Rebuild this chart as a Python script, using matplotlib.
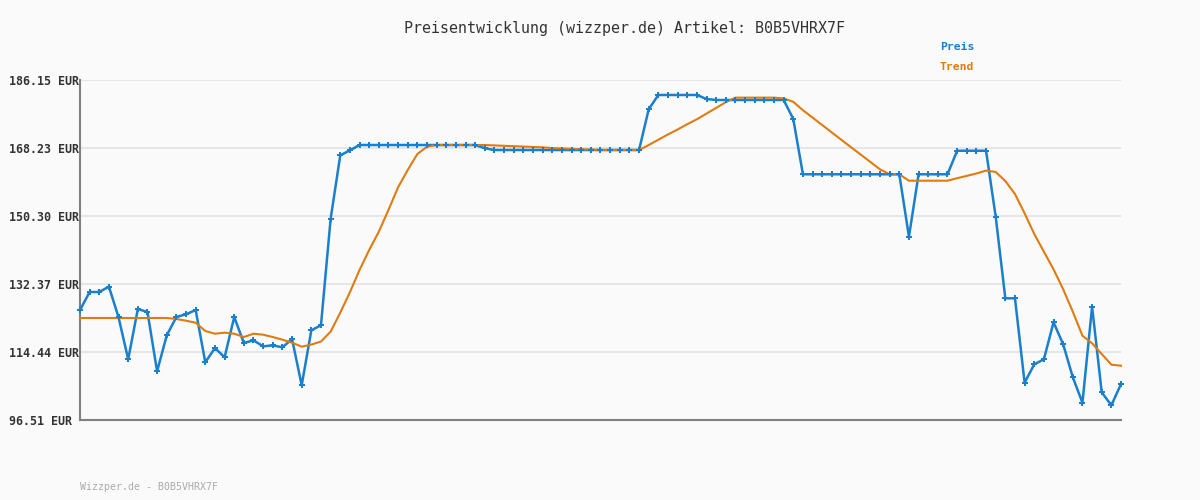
import numpy as np
import matplotlib.pyplot as plt

# price history (109 samples)
preis = [125.51, 130.26, 130.26, 131.66, 123.58, 112.51, 125.78, 124.98, 109.35, 118.84,
         123.66, 124.38, 125.51, 111.72, 115.49, 113.04, 123.66, 116.81, 117.51, 115.93,
         116.19, 115.67, 117.86, 105.66, 120.16, 121.48, 149.50, 166.29, 167.60, 169.01,
         169.01, 169.01, 169.01, 169.01, 169.01, 169.01, 169.01, 169.01, 169.01, 169.01,
         169.01, 169.01, 168.16, 167.69, 167.69, 167.69, 167.69, 167.69, 167.69, 167.69,
         167.69, 167.69, 167.69, 167.69, 167.69, 167.69, 167.69, 167.69, 167.69, 178.42,
         182.20, 182.20, 182.20, 182.20, 182.20, 181.14, 180.88, 180.88, 180.88, 180.88,
         180.88, 180.88, 180.88, 180.88, 175.87, 161.29, 161.29, 161.29, 161.29, 161.29,
         161.29, 161.29, 161.29, 161.29, 161.29, 161.29, 144.84, 161.29, 161.29, 161.29,
         161.29, 167.50, 167.50, 167.50, 167.50, 150.11, 128.59, 128.59, 106.35, 111.19,
         112.51, 122.27, 116.47, 107.77, 101.07, 126.38, 103.81, 100.38, 106.00]

trend = [123.40, 123.40, 123.40, 123.40, 123.40, 123.40, 123.40, 123.40, 123.40, 123.40,
         123.14, 122.69, 122.16, 119.97, 119.26, 119.53, 119.26, 118.39, 119.26, 119.00,
         118.39, 117.69, 116.90, 115.84, 116.40, 117.20, 119.79, 124.80, 130.17, 136.06,
         141.33, 146.15, 151.88, 157.86, 162.42, 166.64, 168.56, 169.01, 169.01, 169.01,
         169.01, 169.01, 169.01, 168.90, 168.80, 168.70, 168.60, 168.50, 168.40, 168.20,
         168.10, 168.00, 167.90, 167.80, 167.70, 167.70, 167.70, 167.70, 167.70, 169.00,
         170.40, 171.80, 173.10, 174.50, 175.80, 177.30, 178.80, 180.30, 181.50, 181.50,
         181.50, 181.50, 181.50, 181.30, 180.40, 178.18, 176.24, 174.29, 172.31, 170.36,
         168.41, 166.48, 164.53, 162.60, 161.29, 161.29, 159.60, 159.60, 159.60, 159.60,
         159.60, 160.26, 160.87, 161.50, 162.26, 161.90, 159.52, 156.09, 151.00, 145.55,
         140.88, 136.24, 130.97, 125.06, 118.74, 116.73, 113.91, 111.09, 110.83]

yticks = [96.51, 114.44, 132.37, 150.30, 168.23, 186.15]
ytick_labels = ['96.51 EUR', '114.44 EUR', '132.37 EUR', '150.30 EUR', '168.23 EUR', '186.15 EUR']

blue = '#1a7fcc'
orange = '#e07b10'
mono = 'DejaVu Sans Mono'

fig = plt.figure(figsize=(12, 5), dpi=100, facecolor='#fafafa')
ax = fig.add_axes([80 / 1200, 0.16, (1121 - 80) / 1200, 0.68])
ax.set_facecolor('#fafafa')

x = np.arange(len(preis))
ax.plot(x, preis, color=blue, lw=1.8, zorder=3, clip_on=False)
ax.plot(x, trend, color=orange, lw=1.5, zorder=4, clip_on=False)
ax.plot(x, preis, ls='none', marker='P', ms=4, color=blue, mew=0, zorder=5, clip_on=False)

ax.set_xlim(0, len(preis) - 1)
ax.set_ylim(yticks[0], yticks[-1])
ax.set_xticks([])
ax.set_yticks(yticks)
ax.set_yticklabels(ytick_labels, fontfamily=mono, fontsize=8.4, fontweight='bold', color='#333333')
for lab in ax.get_yticklabels():
    lab.set_horizontalalignment('left')
# labels start at the left edge of the figure (x ~ 9 px)
ax.tick_params(axis='y', length=0, pad=51)
ax.grid(axis='y', color='#e4e4e4', lw=1.3)
ax.set_axisbelow(True)

for s in ['top', 'right']:
    ax.spines[s].set_visible(False)
for s in ['left', 'bottom']:
    ax.spines[s].set_color('#808080')
    ax.spines[s].set_linewidth(1.5)

fig.text(0.52, 0.944, 'Preisentwicklung (wizzper.de) Artikel: B0B5VHRX7F',
         ha='center', va='center', fontfamily=mono, fontsize=10.8, color='#333333')
fig.text(940 / 1200, 1 - 47 / 500, 'Preis', ha='left', va='center',
         fontfamily=mono, fontsize=8.2, fontweight='bold', color=blue)
fig.text(940 / 1200, 1 - 67 / 500, 'Trend', ha='left', va='center',
         fontfamily=mono, fontsize=8.2, fontweight='bold', color=orange)
fig.text(80 / 1200, 1 - 487 / 500, 'Wizzper.de - B0B5VHRX7F', ha='left', va='center',
         fontfamily=mono, fontsize=7.1, color='#aaaaaa')

fig.savefig('out.png', dpi=100, facecolor=fig.get_facecolor())
